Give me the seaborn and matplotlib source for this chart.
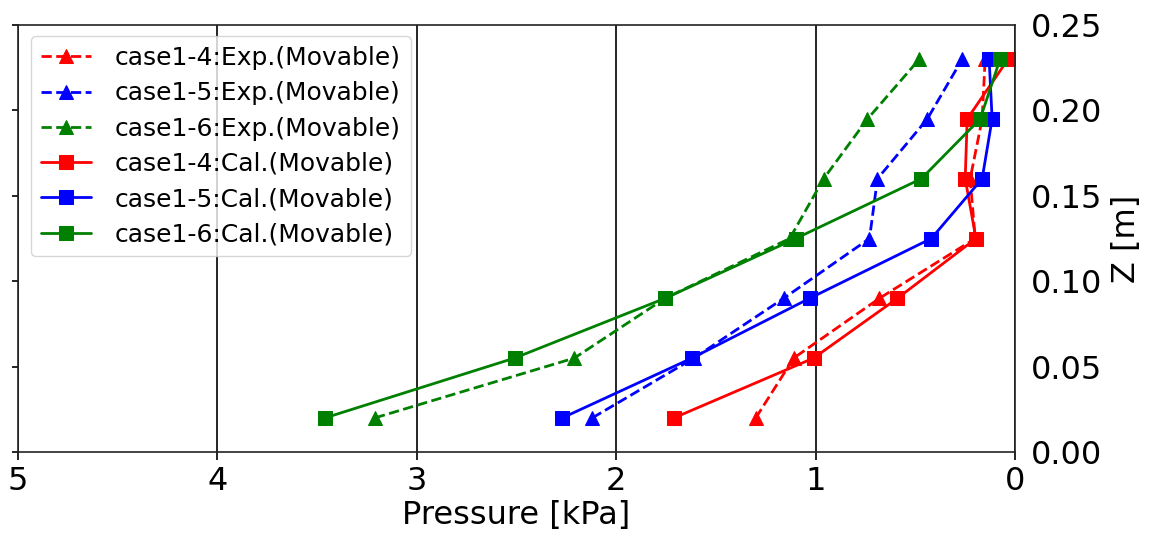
import matplotlib
matplotlib.use("Agg")
import matplotlib.pyplot as plt
import seaborn as sns
import pandas as pd

# heights of the measuring points [m]
z = [0.02, 0.055, 0.09, 0.125, 0.16, 0.195, 0.23]

# pressure [kPa]
exp_14 = [1.30, 1.11, 0.68, 0.20, 0.225, 0.165, 0.15]
exp_15 = [2.12, 1.61, 1.16, 0.73, 0.69, 0.44, 0.265]
exp_16 = [3.21, 2.21, 1.755, 1.13, 0.96, 0.74, 0.48]
cal_14 = [1.71, 1.01, 0.59, 0.196, 0.25, 0.24, 0.035]
cal_15 = [2.27, 1.62, 1.03, 0.42, 0.165, 0.115, 0.13]
cal_16 = [3.46, 2.51, 1.755, 1.10, 0.47, 0.175, 0.075]

labels = ["case1-4:Exp.(Movable)", "case1-5:Exp.(Movable)", "case1-6:Exp.(Movable)",
          "case1-4:Cal.(Movable)", "case1-5:Cal.(Movable)", "case1-6:Cal.(Movable)"]
series = [exp_14, exp_15, exp_16, cal_14, cal_15, cal_16]
colors = ["red", "blue", "green", "red", "blue", "green"]

sns.set_style("ticks")
plt.rcParams["font.family"] = ["DejaVu Sans"]
plt.rcParams["text.color"] = "black"
plt.rcParams["axes.labelcolor"] = "black"
plt.rcParams["xtick.color"] = "black"
plt.rcParams["ytick.color"] = "black"

fig = plt.figure(figsize=(11.54, 5.45), dpi=100)
ax = fig.add_axes([0.0156, 0.1706, 0.864, 0.7835])

for i, (lab, vals, col) in enumerate(zip(labels, series, colors)):
    df = pd.DataFrame({"p": vals, "z": z})
    exp = i < 3
    sns.lineplot(data=df, x="p", y="z", ax=ax, sort=False, estimator=None,
                 orient="y", color=col, label=lab,
                 linestyle="--" if exp else "-",
                 marker="^" if exp else "s", markersize=10,
                 markeredgecolor=col, linewidth=2)

ax.set_xlim(5, 0)
ax.set_ylim(0, 0.25)
ax.set_xticks([5, 4, 3, 2, 1, 0])
ax.set_yticks([0, 0.05, 0.10, 0.15, 0.20, 0.25])
ax.set_yticklabels(["0.00", "0.05", "0.10", "0.15", "0.20", "0.25"])
ax.xaxis.grid(True, color="black", linewidth=1.2)
ax.yaxis.grid(False)

ax.tick_params(axis="y", left=True, right=False, labelleft=False, labelright=True,
               labelsize=23, length=4.5, width=1.2, pad=7)
ax.tick_params(axis="x", labelsize=23, length=6, width=1.2, pad=4)
for s in ax.spines.values():
    s.set_color("#222222")
    s.set_linewidth(1.2)

ax.set_xlabel("Pressure [kPa]", fontsize=23, labelpad=2)
ax.yaxis.set_label_position("right")
ax.set_ylabel("Z [m]", fontsize=23, labelpad=6)

leg = ax.legend(loc="upper left", fontsize=18, labelspacing=0.45, borderpad=0.4,
                handlelength=2.0, handletextpad=0.95, borderaxespad=0,
                bbox_to_anchor=(0.013, 0.974), framealpha=0.8)
for t in leg.get_texts():
    t.set_color("black")

fig.savefig("out.png", dpi=100)
